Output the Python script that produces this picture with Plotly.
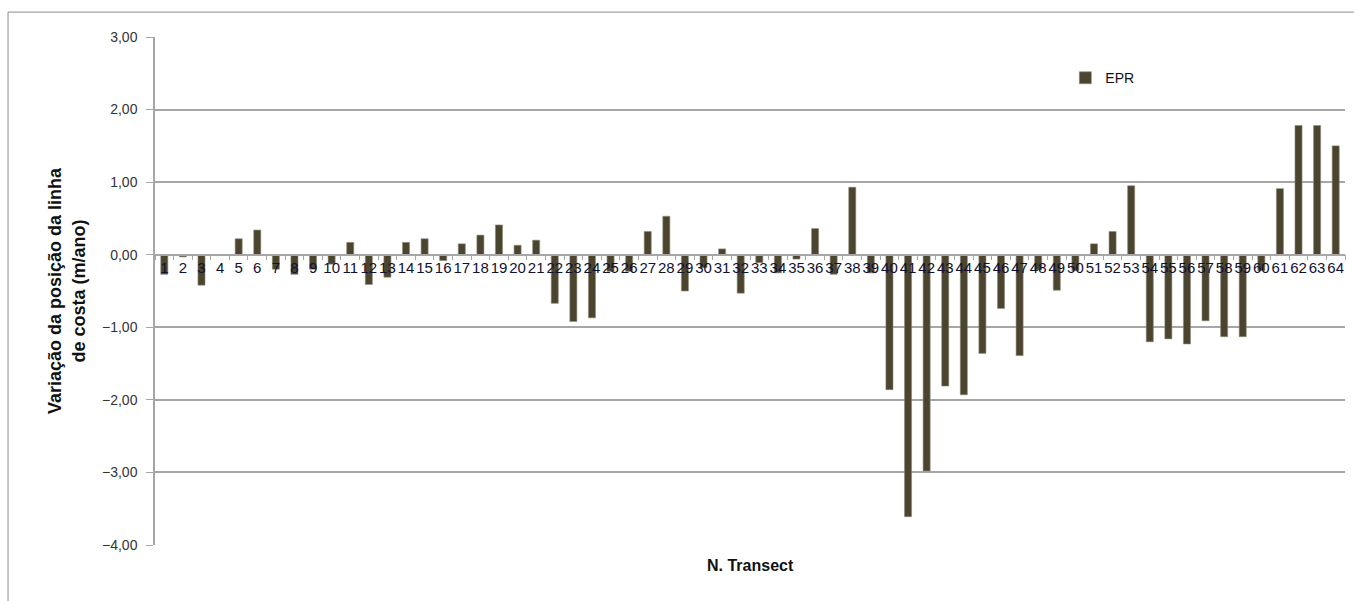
import plotly.graph_objects as go

# Transect numbers and end-point rate (EPR) of shoreline change, m/year
transects = [str(i) for i in range(1, 65)]
epr = [
    -0.27, -0.03, -0.42, 0.00, 0.22, 0.34, -0.20, -0.27, -0.20, -0.13,
    0.17, -0.41, -0.31, 0.17, 0.22, -0.08, 0.15, 0.27, 0.41, 0.13,
    0.20, -0.67, -0.92, -0.87, -0.23, -0.23, 0.32, 0.53, -0.50, -0.18,
    0.08, -0.53, -0.11, -0.25, -0.06, 0.36, -0.27, 0.93, -0.25, -1.86,
    -3.61, -2.98, -1.81, -1.93, -1.36, -0.74, -1.39, -0.21, -0.49, -0.22,
    0.15, 0.32, 0.95, -1.20, -1.16, -1.23, -0.91, -1.13, -1.13, -0.22,
    0.91, 1.78, 1.78, 1.50,
]
y_ticks = [3, 2, 1, 0, -1, -2, -3, -4]

y_min, y_max = -4, 3
bar_color = "#4b4530"
grid_color = "#a6a6a6"
font_family = "'Liberation Sans', Arial, sans-serif"

fig = go.Figure()
fig.add_trace(go.Bar(
    x=transects,
    y=epr,
    name="EPR",
    marker=dict(color=bar_color, line=dict(color="#8f8a78", width=0.6)),
))

fig.update_layout(
    width=1354,
    height=601,
    margin=dict(l=155, r=9, t=37, b=56),
    paper_bgcolor="white",
    plot_bgcolor="white",
    separators=",.",
    bargap=0.62,
    font=dict(family=font_family, color="#222222"),
    showlegend=True,
    legend=dict(
        x=0.765, y=0.919, xanchor="left", yanchor="middle",
        bgcolor="rgba(0,0,0,0)",
        font=dict(size=14, family=font_family, color="#111111"),
        itemwidth=30,
    ),
    xaxis=dict(
        type="category",
        tickmode="array",
        tickvals=transects,
        ticktext=transects,
        tickangle=0,
        anchor="free",
        position=(0 - y_min) / (y_max - y_min),
        showline=True,
        linecolor=grid_color,
        linewidth=1.5,
        ticks="outside",
        ticklen=5,
        tickcolor=grid_color,
        tickson="boundaries",
        showgrid=False,
        tickfont=dict(size=15, family=font_family, color="#111133"),
        layer="above traces",
    ),
    yaxis=dict(
        range=[y_min, y_max],
        tickmode="array",
        tickvals=y_ticks,
        tickformat=".2f",
        showline=True,
        linecolor=grid_color,
        linewidth=1.5,
        ticks="outside",
        ticklen=7,
        tickcolor=grid_color,
        ticklabelstandoff=6,
        showgrid=True,
        gridcolor=grid_color,
        gridwidth=1.5,
        zeroline=False,
        tickfont=dict(size=14, family=font_family, color="#333333"),
        title=dict(
            text="<b>Variação da posição da linha<br>de costa (m/ano)</b>",
            font=dict(size=18, family=font_family, color="#111111"),
            standoff=12,
        ),
    ),
    annotations=[
        dict(
            text="<b>N. Transect</b>",
            xref="paper", yref="paper",
            x=0.5, y=-0.02,
            xanchor="center", yanchor="top",
            showarrow=False,
            font=dict(size=16, family=font_family, color="#111111"),
        )
    ],
    shapes=[
        dict(
            type="rect", xref="paper", yref="paper",
            x0=-0.1235, x1=1.2, y0=-0.3, y1=1.049,
            line=dict(color="#8c8c8c", width=1),
            fillcolor="rgba(0,0,0,0)",
            layer="below",
        )
    ],
)

fig.write_html("out.html")
